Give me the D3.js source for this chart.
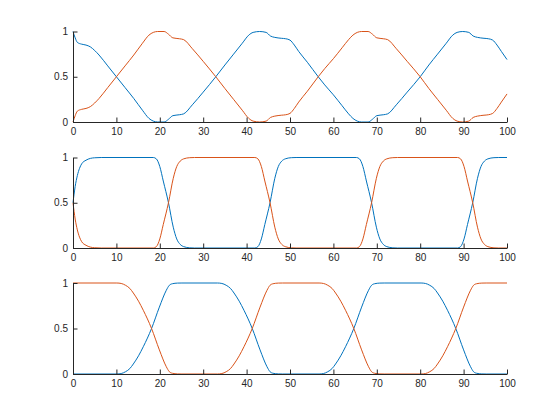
<!DOCTYPE html>
<html>
<head>
<meta charset="utf-8">
<script src="https://cdn.jsdelivr.net/npm/d3@7"></script>
<style>
  body { margin: 0; background: #fff; }
  svg { display: block; }
</style>
</head>
<body>
<svg width="560" height="420"></svg>
<script>
// x ticks shared by all three panels
var xTicks = [0, 10, 20, 30, 40, 50, 60, 70, 80, 90, 100];
var yTicks = [0, 0.5, 1];

// panel 1
var x1 = [0, 0.5, 1, 2, 3, 4, 5, 6, 8, 10, 12, 14, 16, 17.5, 18.5, 19.5, 21, 22, 23, 24.5, 25.5,
  27.5, 30, 32.9, 35, 37, 39, 40.5, 41.5, 43, 44.5, 45.5, 46.5, 48, 49, 50, 51, 52, 54, 56.5,
  58, 60, 62, 63.5, 64.5, 65.5, 66.5, 68, 69, 70, 71.5, 72.5, 74.5, 77, 80, 82, 84, 86,
  87.5, 88.5, 89.8, 91.2, 92.2, 93.2, 94.7, 95.7, 96.7, 97.7, 98.7, 100];
var blue1 = [1.00, 0.93, 0.88, 0.86, 0.85, 0.83, 0.79, 0.74, 0.62, 0.50, 0.38, 0.26, 0.13, 0.04, 0.01, 0.00, 0.00, 0.03, 0.07, 0.08, 0.09,
  0.19, 0.33, 0.50, 0.63, 0.75, 0.87, 0.96, 0.99, 1.00, 0.99, 0.95, 0.935, 0.925, 0.92, 0.905, 0.85, 0.78, 0.66, 0.50,
  0.41, 0.30, 0.18, 0.09, 0.04, 0.01, 0.00, 0.00, 0.03, 0.07, 0.08, 0.09, 0.19, 0.33, 0.50, 0.63, 0.75, 0.87,
  0.96, 0.99, 1.00, 0.99, 0.95, 0.935, 0.925, 0.92, 0.905, 0.85, 0.78, 0.69];
var orange1 = [0.00, 0.07, 0.12, 0.14, 0.15, 0.17, 0.21, 0.26, 0.38, 0.50, 0.62, 0.74, 0.87, 0.96, 0.99, 1.00, 1.00, 0.97, 0.93, 0.92, 0.91,
  0.81, 0.67, 0.50, 0.37, 0.25, 0.13, 0.04, 0.01, 0.00, 0.01, 0.05, 0.065, 0.075, 0.08, 0.095, 0.15, 0.22, 0.34, 0.50,
  0.59, 0.70, 0.82, 0.91, 0.96, 0.99, 1.00, 1.00, 0.97, 0.93, 0.92, 0.91, 0.81, 0.67, 0.50, 0.37, 0.25, 0.13,
  0.04, 0.01, 0.00, 0.01, 0.05, 0.065, 0.075, 0.08, 0.095, 0.15, 0.22, 0.31];

// panel 2
var x2 = [0, 0.5, 1, 1.5, 2, 3, 4, 5, 6.5, 18.5, 19.2, 20, 20.8, 22, 23.1, 23.9, 24.7, 25.5, 26.9, 28,
  41.9, 42.6, 43.4, 44.2, 45.4, 46.5, 47.3, 48.1, 48.9, 50.3, 51.4,
  65.3, 66, 66.8, 67.6, 68.8, 69.9, 70.7, 71.5, 72.3, 73.7, 74.8,
  88.6, 89.3, 90.1, 90.9, 92.1, 93.2, 94, 94.8, 95.6, 97, 98.1, 100];
var blue2 = [0.5, 0.68, 0.8, 0.88, 0.93, 0.97, 0.99, 0.997, 1, 1, 0.985, 0.9, 0.74, 0.5, 0.23, 0.1, 0.04, 0.015, 0.002, 0,
  0, 0.015, 0.1, 0.26, 0.5, 0.77, 0.9, 0.96, 0.985, 0.998, 1,
  1, 0.985, 0.9, 0.74, 0.5, 0.23, 0.1, 0.04, 0.015, 0.002, 0,
  0, 0.015, 0.1, 0.26, 0.5, 0.77, 0.9, 0.96, 0.985, 0.998, 1, 1];
var orange2 = [0.5, 0.32, 0.2, 0.12, 0.07, 0.03, 0.01, 0.003, 0, 0, 0.015, 0.1, 0.26, 0.5, 0.77, 0.9, 0.96, 0.985, 0.998, 1,
  1, 0.985, 0.9, 0.74, 0.5, 0.23, 0.1, 0.04, 0.015, 0.002, 0,
  0, 0.015, 0.1, 0.26, 0.5, 0.77, 0.9, 0.96, 0.985, 0.998, 1,
  1, 0.985, 0.9, 0.74, 0.5, 0.23, 0.1, 0.04, 0.015, 0.002, 0, 0];

// panel 3
var x3 = [0, 10.1, 11.1, 12.1, 13.1, 13.9, 15.1, 16.2, 18.1, 19.9, 21.5, 22.2, 22.9, 24.1, 25.1,
  33.3, 34.3, 35.3, 36.3, 37.1, 38.3, 39.4, 41.3, 43.1, 44.7, 45.4, 46.1, 47.3, 48.3,
  56.7, 57.7, 58.7, 59.7, 60.5, 61.7, 62.8, 64.7, 66.5, 68.1, 68.8, 69.5, 70.7, 71.7,
  80.2, 81.2, 82.2, 83.2, 84, 85.2, 86.3, 88.2, 90, 91.6, 92.3, 93, 94.2, 95.2, 100];
var orange3 = [1, 1, 0.995, 0.975, 0.94, 0.89, 0.8, 0.7, 0.5, 0.265, 0.08, 0.025, 0.008, 0.001, 0,
  0, 0.005, 0.025, 0.06, 0.11, 0.2, 0.3, 0.5, 0.735, 0.92, 0.975, 0.992, 0.999, 1,
  1, 0.995, 0.975, 0.94, 0.89, 0.8, 0.7, 0.5, 0.265, 0.08, 0.025, 0.008, 0.001, 0,
  0, 0.005, 0.025, 0.06, 0.11, 0.2, 0.3, 0.5, 0.735, 0.92, 0.975, 0.992, 0.999, 1, 1];
var blue3 = [0, 0, 0.005, 0.025, 0.06, 0.11, 0.2, 0.3, 0.5, 0.735, 0.92, 0.975, 0.992, 0.999, 1,
  1, 0.995, 0.975, 0.94, 0.89, 0.8, 0.7, 0.5, 0.265, 0.08, 0.025, 0.008, 0.001, 0,
  0, 0.005, 0.025, 0.06, 0.11, 0.2, 0.3, 0.5, 0.735, 0.92, 0.975, 0.992, 0.999, 1,
  1, 0.995, 0.975, 0.94, 0.89, 0.8, 0.7, 0.5, 0.265, 0.08, 0.025, 0.008, 0.001, 0, 0];

var panels = [
  { xs: x1, blue: blue1, orange: orange1, top: 31.5, bottom: 122 },
  { xs: x2, blue: blue2, orange: orange2, top: 157.5, bottom: 248 },
  { xs: x3, blue: blue3, orange: orange3, top: 283, bottom: 374 }
];

var svg = d3.select("svg");
var left = 73, right = 507;
var axisColor = "#262626";
var font = "'Liberation Sans', Arial, Helvetica, sans-serif";

var x = d3.scaleLinear().domain([0, 100]).range([left, right]);

panels.forEach(function(p) {
  var y = d3.scaleLinear().domain([0, 1]).range([p.bottom, p.top]);
  var g = svg.append("g");

  var line = d3.line()
    .x(function(d) { return x(d[0]); })
    .y(function(d) { return y(d[1]); })
    .curve(d3.curveMonotoneX);

  // blue first, orange drawn on top
  [["blue", "#0072BD"], ["orange", "#D95319"]].forEach(function(s) {
    var pts = p.xs.map(function(xv, i) { return [xv, p[s[0]][i]]; });
    g.append("path")
      .datum(pts)
      .attr("fill", "none")
      .attr("stroke", s[1])
      .attr("stroke-width", 1)
      .attr("d", line);
  });

  // x axis, ticks pointing inward
  var xAxis = d3.axisBottom(x).tickValues(xTicks).tickSizeInner(-4.5).tickSizeOuter(0).tickPadding(4);
  var gx = g.append("g")
    .attr("transform", "translate(0," + p.bottom + ")")
    .call(xAxis);

  var yAxis = d3.axisLeft(y).tickValues(yTicks).tickSizeInner(-4.5).tickSizeOuter(0).tickPadding(5)
    .tickFormat(function(d) { return d === 0.5 ? "0.5" : d3.format("d")(d); });
  var gy = g.append("g")
    .attr("transform", "translate(" + left + ",0)")
    .call(yAxis);

  [gx, gy].forEach(function(a) {
    a.select(".domain").attr("stroke", axisColor).attr("stroke-width", 1);
    a.selectAll(".tick line").attr("stroke", axisColor).attr("stroke-width", 1);
    a.selectAll(".tick text")
      .attr("fill", axisColor)
      .style("font-family", font)
      .style("font-size", "10px");
  });
  gx.selectAll(".tick text").attr("dy", "0.85em").attr("y", 4);
});
</script>
</body>
</html>
